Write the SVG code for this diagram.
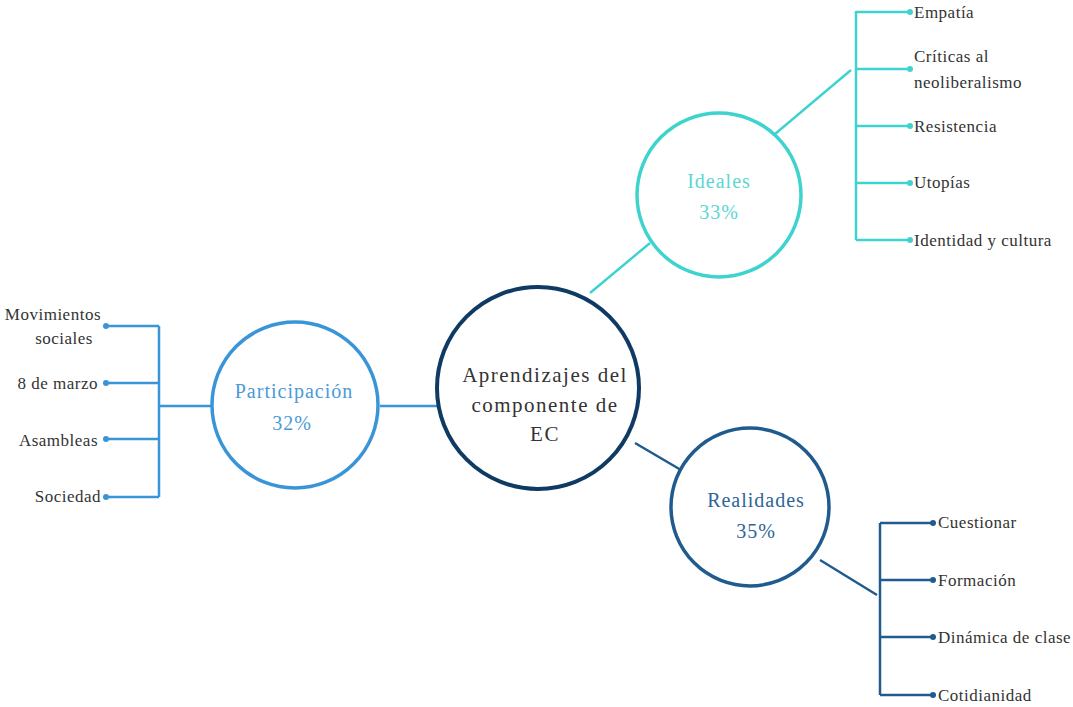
<svg xmlns="http://www.w3.org/2000/svg" width="1073" height="707" viewBox="0 0 1073 707" font-family="'Liberation Serif', 'Times New Roman', serif">
<style>
.lbl{font-size:17px;fill:#333;letter-spacing:0.5px}
.ct{font-size:20px;letter-spacing:1px;text-anchor:middle}
.cc{font-size:21px;letter-spacing:1.5px;text-anchor:middle;fill:#333}
.ln{fill:none;stroke-width:2.5}
.ci{fill:#fff;stroke-width:3.5}
.cy{stroke:#3fd3cf}.cyf{fill:#3fd3cf}
.bl{stroke:#3a95d8}.blf{fill:#3a95d8}
.dk{stroke:#1f5b8e}.dkf{fill:#1f5b8e}
</style>
<rect width="1073" height="707" fill="#fff"/>
<g id="connectors">
<path class="ln cy" d="M590 293 L650 243 M775 134 L851 70"/>
<path class="ln cy" d="M856 11 V240 M856 12 H910 M856 69 H910 M856 126 H910 M856 183 H910 M856 240 H910"/>
<path class="ln bl" d="M380 406 H438 M159 406 H212"/>
<path class="ln bl" d="M159 326 V497 M106 326 H159 M106 383 H159 M106 439 H159 M106 497 H159"/>
<path class="ln dk" d="M635 443 L681 470 M820 560 L877 595"/>
<path class="ln dk" d="M880 523 V695 M880 523 H933 M880 580 H933 M880 637 H933 M880 695 H933"/>
<g class="cyf"><circle cx="910" cy="12" r="3"/><circle cx="910" cy="69" r="3"/><circle cx="910" cy="126" r="3"/><circle cx="910" cy="183" r="3"/><circle cx="910" cy="240" r="3"/></g>
<g class="blf"><circle cx="106" cy="326" r="3"/><circle cx="106" cy="383" r="3"/><circle cx="106" cy="439" r="3"/><circle cx="106" cy="497" r="3"/></g>
<g class="dkf"><circle cx="933" cy="523" r="3"/><circle cx="933" cy="580" r="3"/><circle cx="933" cy="637" r="3"/><circle cx="933" cy="695" r="3"/></g>
</g>
<g id="center">
<circle cx="538" cy="388" r="101" fill="#fff" stroke="#0e3a63" stroke-width="4"/>
<text class="cc" x="545" y="382">Aprendizajes del</text>
<text class="cc" x="545" y="412">componente de</text>
<text class="cc" x="545" y="441">EC</text>
</g>
<g id="ideales">
<circle class="ci cy" cx="719" cy="195" r="82"/>
<text class="ct" fill="#5cd6d2" x="719" y="188">Ideales</text>
<text class="ct" fill="#5cd6d2" x="719" y="219">33%</text>
</g>
<g id="participacion">
<circle class="ci bl" cx="295" cy="405" r="83"/>
<text class="ct" fill="#4a9ad8" x="294" y="398">Participación</text>
<text class="ct" fill="#4a9ad8" x="292" y="430">32%</text>
</g>
<g id="realidades">
<circle class="ci dk" cx="750" cy="507" r="79"/>
<text class="ct" fill="#2e6596" x="756" y="507">Realidades</text>
<text class="ct" fill="#2e6596" x="756" y="538">35%</text>
</g>
<g id="ideales-items">
<text class="lbl" x="914" y="18">Empatía</text>
<text class="lbl" x="914" y="62">Críticas al</text>
<text class="lbl" x="914" y="88">neoliberalismo</text>
<text class="lbl" x="914" y="132">Resistencia</text>
<text class="lbl" x="914" y="188">Utopías</text>
<text class="lbl" x="914" y="246">Identidad y cultura</text>
</g>
<g id="participacion-items" text-anchor="end">
<text class="lbl" x="101" y="320">Movimientos</text>
<text class="lbl" x="93" y="344">sociales</text>
<text class="lbl" x="98" y="389">8 de marzo</text>
<text class="lbl" x="98" y="446">Asambleas</text>
<text class="lbl" x="101" y="502">Sociedad</text>
</g>
<g id="realidades-items">
<text class="lbl" x="938" y="528">Cuestionar</text>
<text class="lbl" x="938" y="586">Formación</text>
<text class="lbl" x="938" y="643">Dinámica de clase</text>
<text class="lbl" x="938" y="701">Cotidianidad</text>
</g>
</svg>
